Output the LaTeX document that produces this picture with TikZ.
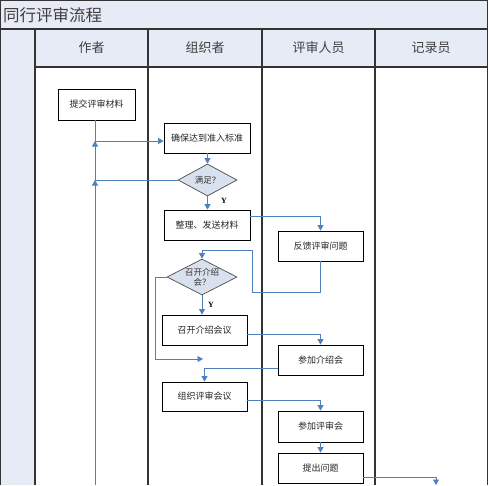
\documentclass[tikz,border=0pt]{standalone}
\usepackage{fontspec}
\setmainfont{Liberation Serif}
\newfontfamily\cjk{Noto Sans CJK SC}
\usetikzlibrary{arrows.meta,shapes.geometric}
\definecolor{hdrfill}{HTML}{E6EBF5}
\definecolor{framec}{HTML}{333333}
\definecolor{flowc}{HTML}{4F81BD}
\definecolor{diafill}{HTML}{D9E1EE}
\tikzset{
  framel/.style={draw=framec, line width=1.3pt},
  box/.style={draw=black, fill=white, line width=0.8pt, minimum width=85pt, minimum height=30pt, inner sep=0pt, font=\cjk\fontsize{9}{10}\selectfont, text=black!85},
  dia/.style={diamond, draw=black!70, fill=diafill, line width=0.7pt, inner sep=0pt, aspect=2, align=center, font=\cjk\fontsize{8.5}{9.5}\selectfont, text=black!80},
  hdr/.style={font=\cjk\fontsize{13}{15}\selectfont, text=black!75},
  flow/.style={draw=flowc, line width=0.8pt, -{Triangle[length=5.5pt,width=6pt]}},
  flowline/.style={draw=flowc, line width=0.8pt},
  ylab/.style={font=\bfseries\fontsize{8}{9}\selectfont, inner sep=0pt}
}
\begin{document}
\begin{tikzpicture}[x=1pt,y=-1pt]
\useasboundingbox (0,0) rectangle (489,485);
% backgrounds
\fill[hdrfill] (0,0) rectangle (488,29);
\fill[hdrfill] (0,29) rectangle (35,485);
\fill[hdrfill] (35,29) rectangle (487,67);
% frame lines
\draw[framel] (0.6,485) -- (0.6,0.6) -- (487.5,0.6) -- (487.5,485);
\draw[framel] (0,29) -- (488,29);
\draw[framel] (35,67) -- (487,67);
\foreach \xx in {35,148,262,375} \draw[framel] (\xx,29) -- (\xx,485);
% title and headers
\node[anchor=west, font=\cjk\fontsize{16.5}{18}\selectfont, text=black!75, inner sep=0pt] (title) at (3,15) {同行评审流程};
\node[hdr] (h1) at (91.5,48) {作者};
\node[hdr] (h2) at (205,48) {组织者};
\node[hdr] (h3) at (318.5,48) {评审人员};
\node[hdr] (h4) at (431,48) {记录员};
% nodes
\node[box, minimum width=77pt, minimum height=31pt] (n1) at (96.5,104.5) {提交评审材料};
\node[box, minimum width=86pt] (n2) at (207,138) {确保达到准入标准};
\node[dia, minimum width=59pt, minimum height=32pt] (d1) at (207.5,180) {满足？};
\node[box, minimum width=86pt] (n3) at (207,225) {整理、发送材料};
\node[box] (n4) at (320.5,246) {反馈评审问题};
\node[dia, minimum width=70pt, minimum height=36pt] (d2) at (202,277) {召开介绍\\会？};
\node[box] (n5) at (204.5,330) {召开介绍会议};
\node[box] (n6) at (320.5,360) {参加介绍会};
\node[box, minimum height=29pt] (n7) at (204.5,396.5) {组织评审会议};
\node[box, minimum height=31pt] (n8) at (320.5,426.5) {参加评审会};
\node[box] (n9) at (320.5,468) {提出问题};
% coordinates
\coordinate (j1) at (95,141);
\coordinate (bot1) at (95,485);
\coordinate (c1) at (252,292);
\coordinate (c2) at (252,250);
\coordinate (c3) at (155,359);
\coordinate (e1) at (203,359);
\coordinate (e2) at (436,485);
% connectors
\draw[flowline] (n1.south -| j1) -- (bot1);
\draw[flow] (j1) -- (j1 -| n2.west);
\draw[flow] ([yshift=-9pt]j1) -- (j1);
\draw[flowline] (d1.west) -- (d1.west -| j1);
\draw[flow] ([yshift=-9pt]d1.west -| j1) -- (d1.west -| j1);
\draw[flow] (n2.south -| d1.north) -- (d1.north);
\draw[flow] (d1.south) -- (d1.south |- n3.north);
\node[ylab] (y1) at (224,201) {Y};
\draw[flow] ([yshift=9pt]n3.east) -| (n4.north);
\draw[flow] (n4.south) |- (c1) -- (c2) -| (d2.north);
\draw[flow] (d2.south) -- (d2.south |- n5.north);
\node[ylab] (y2) at (211,305) {Y};
\draw[flow] (d2.west) -| (c3) -- (e1);
\draw[flow] ([yshift=-4pt]n5.east) -| (n6.north);
\draw[flow] ([yshift=-8pt]n6.west) -| (n7.north);
\draw[flow] ([yshift=-3.5pt]n7.east) -| (n8.north);
\draw[flow] (n8.south) -- (n9.north);
\draw[flow] ([yshift=-9pt]n9.east) -| (e2);
\end{tikzpicture}
\end{document}
